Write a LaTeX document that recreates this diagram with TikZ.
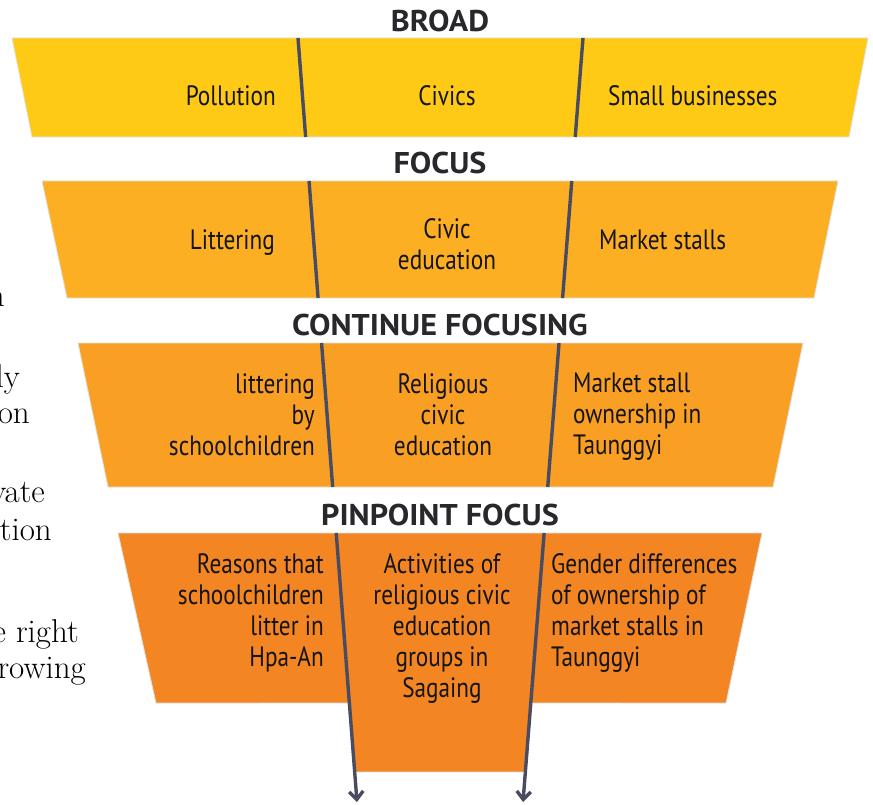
\documentclass[tikz,border=0pt]{standalone}
\usepackage{fontspec}
\usepackage{tikz}
\usetikzlibrary{arrows.meta, calc}
\newfontfamily\labelfont{PT Sans}[FakeStretch=0.83]
\newfontfamily\headfont{PT Sans}[FakeStretch=1.07]
\definecolor{broadyellow}{RGB}{254,202,21}
\definecolor{focusamber}{RGB}{252,175,34}
\definecolor{continueorange}{RGB}{249,160,36}
\definecolor{pinpointorange}{RGB}{243,134,34}
\definecolor{dividergray}{RGB}{72,76,98}
\definecolor{headgray}{RGB}{40,40,44}
\definecolor{inkblack}{RGB}{20,20,20}

\begin{document}
\begin{tikzpicture}[
    x=1pt, y=-1pt,
    band/.style={draw=black!12, line width=0.8pt},
    divider/.style={draw=dividergray, line width=3.4pt},
    label/.style={font={\labelfont\fontsize{28}{31}\selectfont}, text=inkblack, inner sep=0pt},
    head/.style={font={\headfont\bfseries\fontsize{30}{32}\selectfont}, text=headgray, inner sep=0pt, anchor=base},
    frag/.style={font={\fontsize{33}{37}\selectfont}, inner sep=0pt, anchor=base east}
]
\useasboundingbox (0,0) rectangle (873,805);

% Divider ends
\coordinate (ltop) at (298,38);
\coordinate (lbot) at (357,802);
\coordinate (rtop) at (583,38);
\coordinate (rbot) at (523,802);

% Bands
\path[band, fill=broadyellow] (12,38) -- (868,38) -- (849,137) -- (32,137) -- cycle;
\path[band, fill=focusamber] (42,181) -- (838,181) -- (814,298) -- (67,298) -- cycle;
\path[band, fill=continueorange] (78,343) -- (803,343) -- (773,487) -- (108,487) -- cycle;
\path[band, fill=pinpointorange] (118,533) -- (762,533) -- (726,703)
    -- ($(rtop)!0.8704!(rbot)$) -- ($(rtop)!0.9607!(rbot)$)
    -- ($(ltop)!0.9607!(lbot)$) -- ($(ltop)!0.8704!(lbot)$)
    -- (156,703) -- cycle;

% Dividers
\foreach \ya/\yb in {38/137, 181/298, 343/487} {
    \draw[divider] ($(ltop)!{(\ya-38)/764}!(lbot)$) -- ($(ltop)!{(\yb-38)/764}!(lbot)$);
    \draw[divider] ($(rtop)!{(\ya-38)/764}!(rbot)$) -- ($(rtop)!{(\yb-38)/764}!(rbot)$);
}
\draw[divider, -{Straight Barb[length=8pt, width=14pt]}] ($(ltop)!0.6479!(lbot)$) -- (lbot);
\draw[divider, -{Straight Barb[length=8pt, width=14pt]}] ($(rtop)!0.6479!(rbot)$) -- (rbot);

% Headings
\node[head] (broad) at (440,32) {BROAD};
\node[head] (focus) at (440,174) {FOCUS};
\node[head] (continue) at (440,335) {CONTINUE FOCUSING};
\node[head] (pinpoint) at (440,525) {PINPOINT FOCUS};

% Broad
\node[label, anchor=base east] (pollution) at (276,106) {Pollution};
\node[label, anchor=base] (civics) at (447,106) {Civics};
\node[label, anchor=base west] (small) at (608,106) {Small businesses};

% Focus
\node[label, anchor=base east] (littering) at (275,250) {Littering};
\node[label, anchor=north, align=center] (civic) at (447,218) {Civic\\education};
\node[label, anchor=base west] (stalls) at (599,250) {Market stalls};

% Continue focusing
\node[label, anchor=north east, align=right] (bychildren) at (315,373) {littering\\by\\schoolchildren};
\node[label, anchor=north, align=center] (religious) at (443,373) {Religious\\civic\\education};
\node[label, anchor=north west, align=left] (ownership) at (573,373) {Market stall\\ownership in\\Taunggyi};

% Pinpoint focus
\node[label, anchor=north east, align=right] (reasons) at (324,553) {Reasons that\\schoolchildren\\litter in\\Hpa-An};
\node[label, anchor=north, align=center] (activities) at (442,553) {Activities of\\religious civic\\education\\groups in\\Sagaing};
\node[label, anchor=north west, align=left] (gender) at (551,553) {Gender differences\\of ownership of\\market stalls in\\Taunggyi};

% Page text cut at the left edge
\node[frag] (fragn) at (5,306) {n};
\node[frag] (fragly) at (20,387) {ly};
\node[frag] (fragon) at (30,423) {on};
\node[frag] (fragvate) at (45,502) {vate};
\node[frag] (fragtion) at (52,540) {tion};
\node[frag] (fragright) at (79,642) {e right};
\node[frag] (fragrowing) at (86,678) {rowing};

\end{tikzpicture}
\end{document}
